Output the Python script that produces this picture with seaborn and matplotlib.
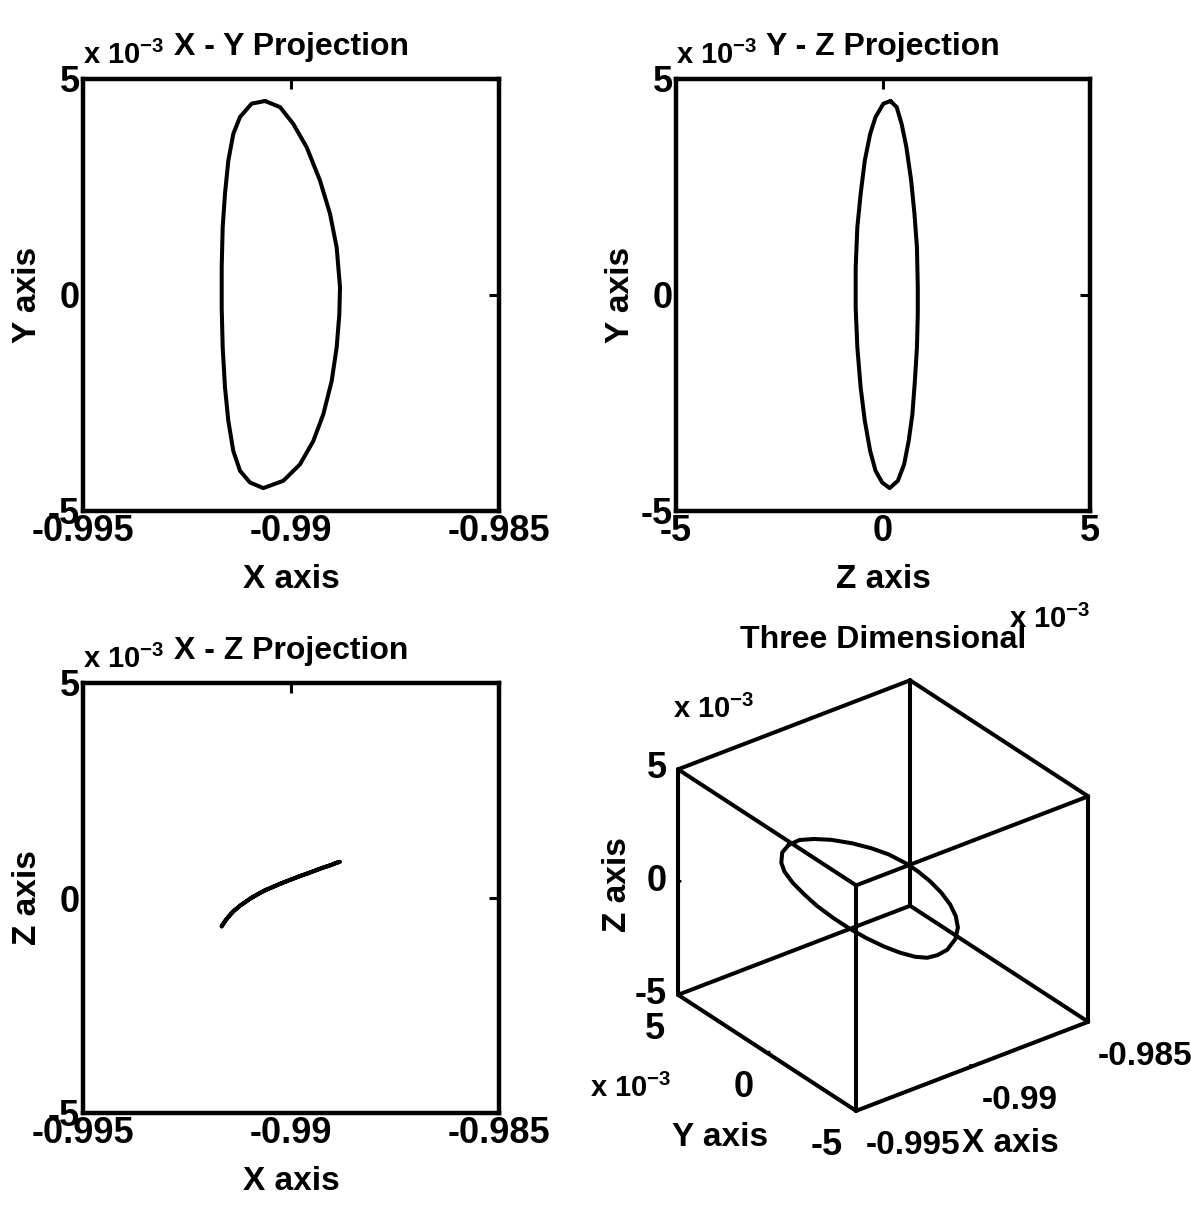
import itertools
import numpy as np
import pandas as pd
import matplotlib
matplotlib.use("Agg")
import matplotlib.pyplot as plt
import seaborn as sns
from mpl_toolkits.mplot3d import Axes3D  # noqa: F401

# Periodic orbit near the collinear point, sampled around one revolution.
# x in canonical units, y and z in units of 1e-3.
orbit_x = [-0.990625, -0.990264, -0.989945, -0.989623, -0.989303, -0.989062,
           -0.988902, -0.988822, -0.988838, -0.988902, -0.989022, -0.989223,
           -0.989464, -0.989784, -0.990185, -0.990666, -0.990986, -0.991226,
           -0.991387, -0.991507, -0.991587, -0.991642, -0.991666, -0.991666,
           -0.991642, -0.991587, -0.991507, -0.991387, -0.991226, -0.990946]
orbit_y = [4.49, 4.35, 3.96, 3.42, 2.65, 1.88, 1.10, 0.18, -0.44, -1.21,
           -1.99, -2.76, -3.38, -3.92, -4.30, -4.47, -4.34, -4.07, -3.61, -2.91,
           -2.14, -1.21, -0.29, 0.64, 1.57, 2.34, 3.11, 3.73, 4.12, 4.43]
orbit_z = [0.18, 0.33, 0.45, 0.565, 0.68, 0.76, 0.82, 0.84, 0.84, 0.82,
           0.77, 0.71, 0.62, 0.51, 0.36, 0.16, -0.02, -0.18, -0.31, -0.44,
           -0.54, -0.62, -0.66, -0.66, -0.62, -0.54, -0.44, -0.31, -0.18, 0.01]

x_limits = [-0.995, -0.985]
e3_limits = [-5, 5]
x_ticks = [-0.995, -0.99, -0.985]
x_tick_labels = ["-0.995", "-0.99", "-0.985"]
e3_ticks = [-5, 0, 5]
e3_tick_labels = ["-5", "0", "5"]

sns.set_theme(style="white")
plt.rcParams["font.family"] = ["Liberation Sans", "DejaVu Sans"]
plt.rcParams["font.weight"] = "bold"
plt.rcParams["axes.unicode_minus"] = False
plt.rcParams["mathtext.fontset"] = "custom"
plt.rcParams["mathtext.rm"] = "Liberation Sans:bold"
plt.rcParams["mathtext.it"] = "Liberation Sans:bold"
plt.rcParams["mathtext.bf"] = "Liberation Sans:bold"
for key in ("text.color", "axes.labelcolor", "xtick.color", "ytick.color",
            "axes.edgecolor", "xtick.labelcolor", "ytick.labelcolor"):
    plt.rcParams[key] = "black"

FS = 26          # tick labels
LFS = 24         # axis labels
TFS = 23         # titles
EFS = 21         # exponent notes
LW = 2.9
EXP = r"x 10$^{\mathregular{-3}}$"

orbit = pd.DataFrame({"x": orbit_x, "y": orbit_y, "z": orbit_z})
loop = pd.concat([orbit, orbit.iloc[:1]], ignore_index=True)

W, H = 1191, 1206
fig = plt.figure(figsize=(W / 100, H / 100), dpi=100)


def frame(left, top, right, bottom):
    return [left / W, 1 - bottom / H, (right - left) / W, (bottom - top) / H]


def style2d(ax, xlim, xt, xtl, xlab, ylab, title):
    ax.set_xlim(*xlim)
    ax.set_ylim(*e3_limits)
    ax.set_xticks(xt)
    ax.set_xticklabels(xtl)
    ax.set_yticks(e3_ticks)
    ax.set_yticklabels(e3_tick_labels)
    ax.tick_params(direction="in", length=7, width=2.2, top=True, right=True,
                   labelsize=FS, pad=2, colors="black")
    for s in ax.spines.values():
        s.set_visible(True)
        s.set_color("black")
        s.set_linewidth(3.2)
    ax.set_xlabel(xlab, fontsize=LFS, fontweight="bold", labelpad=11, color="black")
    ax.set_ylabel(ylab, fontsize=LFS, fontweight="bold", labelpad=4, color="black")
    ax.set_title(title, fontsize=TFS, fontweight="bold", pad=17, color="black")
    ax.text(0.0, 1.02, EXP, transform=ax.transAxes, ha="left", va="bottom",
            fontsize=EFS, fontweight="bold")
    ax.grid(False)
    ax.set_facecolor("white")


ax1 = fig.add_axes(frame(83, 79, 499, 511))
sns.lineplot(data=loop, x="x", y="y", sort=False, estimator=None,
             color="black", lw=LW, ax=ax1)
style2d(ax1, x_limits, x_ticks, x_tick_labels, "X axis", "Y axis", "X - Y Projection")

ax2 = fig.add_axes(frame(676, 79, 1090, 511))
sns.lineplot(data=loop, x="z", y="y", sort=False, estimator=None,
             color="black", lw=LW, ax=ax2)
style2d(ax2, e3_limits, e3_ticks, e3_tick_labels, "Z axis", "Y axis", "Y - Z Projection")

ax3 = fig.add_axes(frame(83, 683, 499, 1113))
sns.lineplot(data=loop, x="x", y="z", sort=False, estimator=None,
             color="black", lw=LW, ax=ax3)
style2d(ax3, x_limits, x_ticks, x_tick_labels, "X axis", "Z axis", "X - Z Projection")

# Three dimensional view
ax4 = fig.add_axes([0.495, 0.011, 0.48, 0.48], projection="3d")
ax4.set_facecolor((1, 1, 1, 0))
ax4.set_proj_type("ortho")
ax4.view_init(elev=30, azim=-127.5)
ax4.set_box_aspect((1, 1, 0.89), zoom=0.83)
ax4.plot(loop["x"], loop["y"], loop["z"], color="black", lw=LW)
ax4.set_xlim(*x_limits)
ax4.set_ylim(*e3_limits)
ax4.set_zlim(*e3_limits)
ax4.set_xticks(x_ticks)
ax4.set_xticklabels(x_tick_labels, ha="left", va="top")
ax4.set_yticks(e3_ticks)
ax4.set_yticklabels(e3_tick_labels, ha="right", va="top")
ax4.set_zticks(e3_ticks)
ax4.set_zticklabels(e3_tick_labels, ha="right", va="center")
ax4.grid(False)
for axis in (ax4.xaxis, ax4.yaxis, ax4.zaxis):
    axis.set_pane_color((1, 1, 1, 0))
    axis.pane.set_edgecolor((1, 1, 1, 0))
    axis.line.set_color("black")
    axis.line.set_linewidth(2.2)
    axis._axinfo["tick"]["inward_factor"] = 0.0
    axis._axinfo["tick"]["outward_factor"] = 0.12
    axis._axinfo["tick"]["linewidth"] = {True: 2.0, False: 1.0}
    axis._axinfo["tick"]["color"] = "black"
ax4.tick_params(axis="x", labelsize=24, pad=4, colors="black")
ax4.tick_params(axis="y", labelsize=FS, pad=4, colors="black")
ax4.tick_params(axis="z", labelsize=FS, pad=-2, colors="black")
# box edges
for a, b in itertools.combinations(itertools.product(x_limits, e3_limits, e3_limits), 2):
    if sum(u != v for u, v in zip(a, b)) == 1:
        ax4.plot([a[0], b[0]], [a[1], b[1]], [a[2], b[2]], color="black", lw=LW)

# exponent note for the horizontal axis of the Y-Z view
fig.text(1090 / W, 1 - 628 / H, EXP, ha="right", va="baseline",
         fontsize=EFS, fontweight="bold")

fig.text(883 / W, 1 - 640 / H, "Three Dimensional", ha="center", va="center",
         fontsize=TFS, fontweight="bold")
fig.text(617 / W, 1 - 885 / H, "Z axis", ha="center", va="center", rotation=90,
         fontsize=LFS, fontweight="bold")
fig.text(720 / W, 1 - 1138 / H, "Y axis", ha="center", va="center",
         fontsize=LFS, fontweight="bold")
fig.text(1010 / W, 1 - 1143 / H, "X axis", ha="center", va="center",
         fontsize=LFS, fontweight="bold")
fig.text(673 / W, 1 - 718 / H, EXP, ha="left", va="baseline",
         fontsize=EFS, fontweight="bold")
fig.text(590 / W, 1 - 1097 / H, EXP, ha="left", va="baseline",
         fontsize=EFS, fontweight="bold")

fig.savefig("out.png", dpi=100, facecolor="white")
